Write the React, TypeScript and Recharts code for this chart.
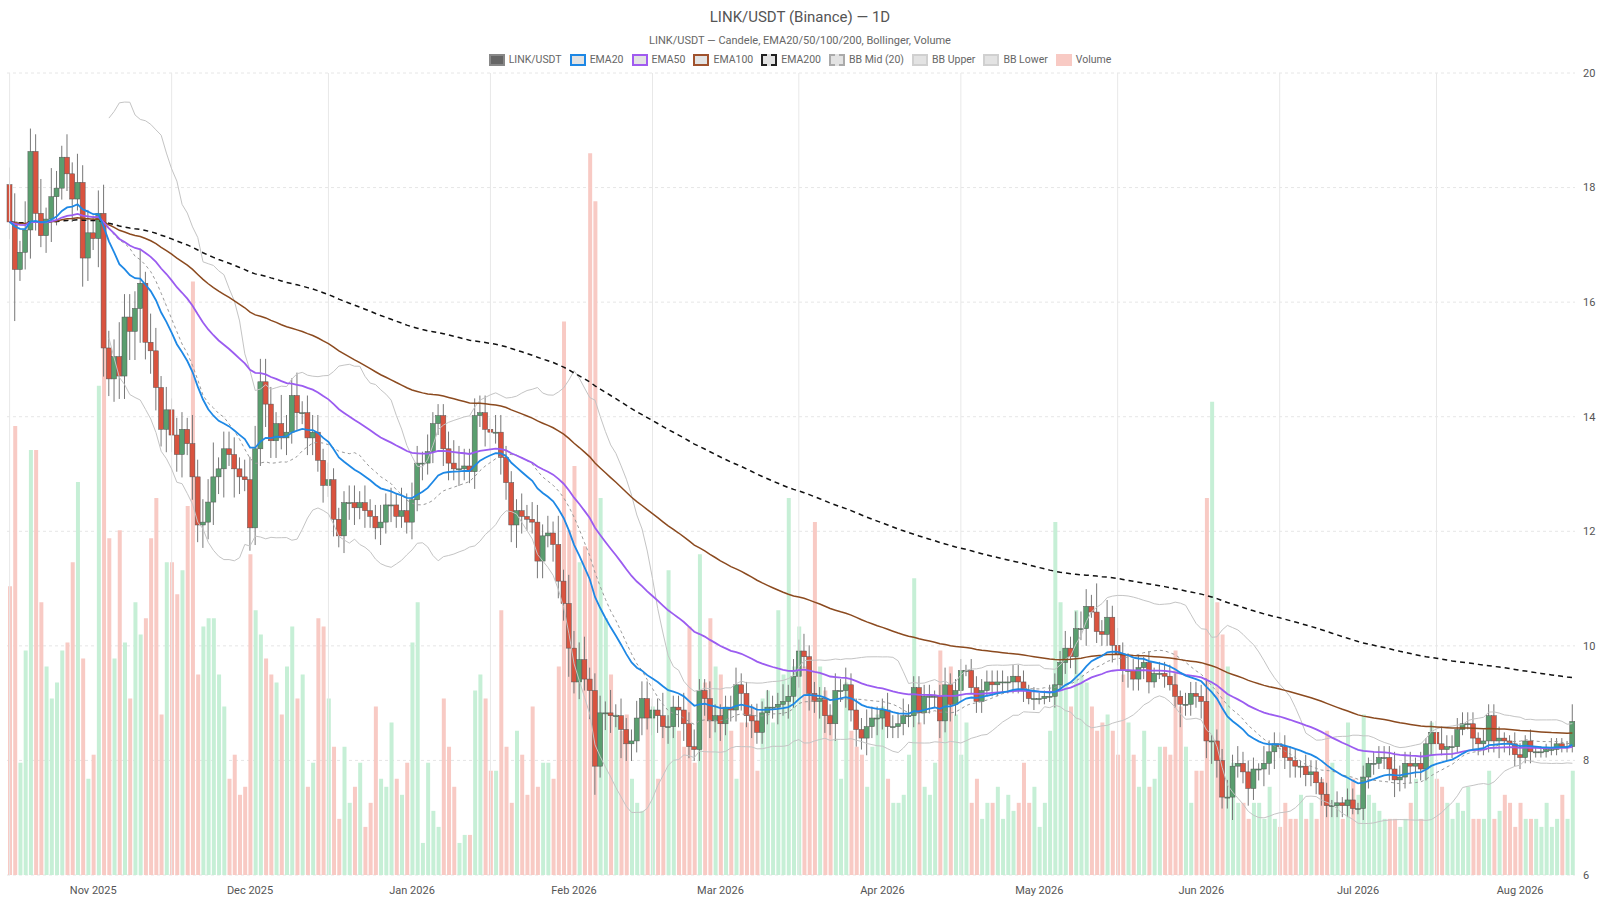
import React from 'react';
import { ComposedChart, Bar, Line, XAxis, YAxis, CartesianGrid, ReferenceLine, Cell } from 'recharts';

// daily closes, LINK/USDT, from 2025-10-16
const firstOpen = 18.05;
const closes = [
  17.4, 16.57, 16.87, 17.26, 18.63, 17.55, 17.16, 17.45, 17.84, 17.99,
  18.53, 18.24, 17.8, 18.09, 16.77, 17.21, 17.11, 17.55, 15.2, 14.66,
  15.05, 14.71, 15.74, 15.49, 15.89, 16.33, 15.3, 15.15, 14.51, 13.78,
  14.12, 13.68, 13.34, 13.78, 13.53, 12.95, 12.11, 12.16, 12.51, 12.95,
  13.09, 13.44, 13.34, 13.09, 12.95, 12.9, 12.06, 13.44, 14.61, 14.22,
  13.58, 13.88, 13.63, 13.73, 14.37, 14.07, 14.07, 13.63, 13.73, 13.24,
  12.8, 12.9, 12.21, 11.92, 12.5, 12.5, 12.41, 12.5, 12.36, 12.26,
  12.06, 12.16, 12.46, 12.46, 12.26, 12.36, 12.16, 12.55, 13.19, 13.19,
  13.39, 13.88, 14.02, 13.44, 13.19, 13.09, 13.09, 13.14, 13.04, 14.02,
  14.07, 13.78, 13.73, 13.73, 13.29, 12.85, 12.11, 12.36, 12.26, 12.21,
  12.16, 11.48, 11.92, 11.97, 11.77, 11.13, 10.74, 9.96, 9.37, 9.76,
  9.42, 9.22, 7.9, 8.83, 8.83, 8.78, 8.78, 8.54, 8.29, 8.34,
  8.74, 9.08, 8.74, 8.88, 8.78, 8.59, 8.59, 8.93, 8.88, 8.64,
  8.24, 8.19, 9.22, 9.08, 8.69, 8.78, 8.64, 8.93, 8.88, 9.32,
  9.17, 8.78, 8.69, 8.49, 8.83, 8.93, 8.93, 8.98, 9.03, 9.12,
  9.47, 9.91, 9.81, 9.17, 9.03, 9.08, 8.78, 8.64, 9.22, 9.22,
  9.32, 8.88, 8.54, 8.39, 8.59, 8.74, 8.74, 8.88, 8.59, 8.59,
  8.64, 8.78, 8.78, 9.27, 8.83, 9.12, 9.12, 9.12, 8.69, 9.32,
  8.98, 9.22, 9.57, 9.57, 9.27, 9.03, 9.22, 9.37, 9.32, 9.37,
  9.37, 9.37, 9.47, 9.37, 9.22, 9.08, 9.08, 9.08, 9.12, 9.12,
  9.32, 9.71, 9.96, 9.81, 10.3, 10.3, 10.69, 10.59, 10.25, 10.2,
  10.5, 10.01, 9.86, 9.57, 9.57, 9.42, 9.62, 9.71, 9.37, 9.52,
  9.52, 9.47, 9.32, 9.12, 8.98, 8.98, 9.17, 9.12, 9.03, 8.34,
  8.34, 8.0, 7.36, 7.36, 7.9, 7.95, 7.8, 7.51, 7.85, 7.85,
  7.95, 8.15, 8.29, 8.24, 8.05, 8.0, 7.9, 7.9, 7.75, 7.8,
  7.61, 7.41, 7.21, 7.21, 7.26, 7.21, 7.31, 7.16, 7.16, 7.71,
  7.95, 7.95, 8.05, 8.05, 7.85, 7.66, 7.71, 7.95, 7.9, 7.95,
  7.85, 8.29, 8.49, 8.29, 8.19, 8.24, 8.24, 8.54, 8.64, 8.64,
  8.39, 8.29, 8.34, 8.78, 8.34, 8.39, 8.34, 8.29, 8.1, 8.05,
  8.34, 8.15, 8.15, 8.15, 8.19, 8.19, 8.29, 8.24, 8.24, 8.68,
];

// wick lengths above / below the body, in tenths of a dollar
const wickUp =
  '35254362532425343453364436254242332534462333234444' +
  '32533423332322233232232324333232223443333323322232' +
  '33232525334233242322333224222323223222232223232232' +
  '32322222323222322232232222212322212222222122212112' +
  '22323332523232322121222212222412232322213222222122' +
  '21212122121222232221212232222221222211221211121113';
const wickDown =
  '39235323452342542553444556344343342434343525324334' +
  '33232323323232333232232322232322233232232332333432' +
  '23323335232552332533232332323322233232223232222323' +
  '22232332323232323222222222323232211221222222212111' +
  '21223231222322322221121242223343224223223232232222' +
  '22222221122212232232222212211122222322221211111111';

// volume, 100k LINK
const volumes = [
  36, 56, 14, 28, 53, 53, 34, 26, 22, 24, 28, 29, 39, 49, 27, 12, 15, 61, 77, 42,
  27, 43, 29, 22, 34, 30, 32, 42, 47, 20, 39, 39, 35, 38, 46, 74, 25, 31, 32, 32,
  25, 21, 12, 15, 10, 11, 40, 33, 30, 27, 25, 24, 20, 26, 31, 22, 25, 11, 14, 32,
  31, 22, 16, 7, 16, 9, 11, 14, 6, 9, 21, 12, 11, 19, 12, 10, 14, 29, 34, 4,
  14, 8, 6, 22, 16, 11, 4, 5, 5, 23, 25, 22, 13, 13, 33, 16, 9, 18, 15, 10,
  21, 11, 14, 14, 12, 26, 69, 43, 51, 39, 41, 90, 84, 47, 32, 25, 20, 18, 20, 12,
  9, 8, 21, 21, 12, 19, 38, 21, 18, 16, 31, 14, 40, 24, 32, 26, 25, 21, 18, 12,
  19, 19, 21, 13, 22, 23, 19, 33, 25, 47, 26, 31, 26, 26, 44, 26, 23, 20, 17, 12,
  24, 18, 16, 15, 11, 16, 20, 21, 12, 9, 9, 10, 15, 37, 19, 11, 10, 14, 28, 21,
  26, 20, 15, 19, 9, 12, 7, 9, 9, 11, 7, 10, 8, 9, 14, 9, 11, 6, 9, 18,
  44, 34, 28, 21, 33, 25, 24, 21, 18, 19, 20, 18, 15, 25, 19, 15, 11, 18, 11, 12,
  16, 16, 15, 28, 21, 16, 9, 13, 13, 47, 59, 34, 30, 26, 14, 9, 9, 7, 9, 9,
  7, 11, 7, 6, 9, 7, 7, 10, 7, 9, 7, 12, 18, 14, 9, 7, 19, 12, 10, 20,
  10, 9, 8, 7, 7, 7, 6, 7, 9, 12, 7, 16, 19, 12, 11, 9, 7, 9, 8, 11,
  7, 7, 7, 13, 7, 8, 10, 9, 6, 9, 7, 7, 7, 6, 9, 6, 7, 10, 7, 13,
];

const priceTicks = [6, 8, 10, 12, 14, 16, 18, 20];
const monthNames = ['Jan', 'Feb', 'Mar', 'Apr', 'May', 'Jun', 'Jul', 'Aug', 'Sep', 'Oct', 'Nov', 'Dec'];

const GREEN = '#5a9e6f';
const RED = '#d9533f';

function ema(src: number[], n: number) {
  const k = 2 / (n + 1);
  const out: number[] = [];
  src.forEach((v, i) => out.push(i === 0 ? v : v * k + out[i - 1] * (1 - k)));
  return out;
}

const start = new Date(Date.UTC(2025, 9, 16));
const dates = closes.map((_, i) => {
  const d = new Date(start.getTime() + i * 86400000);
  return d.toISOString().slice(0, 10);
});

const e20 = ema(closes, 20);
const e50 = ema(closes, 50);
const e100 = ema(closes, 100);
const e200 = ema(closes, 200);

const data = closes.map((c, i) => {
  const o = i === 0 ? firstOpen : closes[i - 1];
  const hi = Math.max(o, c) + Number(wickUp[i] || '2') / 10;
  const lo = Math.min(o, c) - Number(wickDown[i] || '2') / 10;
  let mid = null, up = null, dn = null;
  if (i >= 19) {
    const win = closes.slice(i - 19, i + 1);
    const m = win.reduce((a, b) => a + b, 0) / 20;
    const sd = Math.sqrt(win.reduce((a, b) => a + (b - m) * (b - m), 0) / 20);
    mid = m; up = m + 2 * sd; dn = m - 2 * sd;
  }
  return {
    date: dates[i], open: o, close: c, high: hi, low: lo, range: [lo, hi],
    volume: volumes[i], ema20: e20[i], ema50: e50[i], ema100: e100[i], ema200: e200[i],
    bbMid: mid, bbUp: up, bbDn: dn,
  };
});

const monthTicks = dates.filter(d => d.endsWith('-01'));
const gridDates = dates.filter(d => d.endsWith('-16'));

const fmtMonth = (d: string) => `${monthNames[Number(d.slice(5, 7)) - 1]} ${d.slice(0, 4)}`;

const Candle = (props: any) => {
  const { x, y, width, height, payload } = props;
  const { open, close, high, low } = payload;
  const ratio = height / (high - low || 1);
  const top = y + (high - Math.max(open, close)) * ratio;
  const bodyH = Math.max(Math.abs(open - close) * ratio, 1);
  const cx = x + width / 2;
  const color = close >= open ? GREEN : RED;
  return (
    <g>
      <line x1={cx} x2={cx} y1={y} y2={y + height} stroke="#777" strokeWidth={1} />
      <rect x={x} y={top} width={width} height={bodyH} fill={color} stroke="#555" strokeWidth={0.5} />
    </g>
  );
};

const legendItems = [
  { label: 'LINK/USDT', fill: '#666', border: '#888', dash: false },
  { label: 'EMA20', fill: '#e3e3e3', border: '#1e88e5', dash: false },
  { label: 'EMA50', fill: '#e3e3e3', border: '#a05cf0', dash: false },
  { label: 'EMA100', fill: '#e3e3e3', border: '#a0522d', dash: false },
  { label: 'EMA200', fill: '#e3e3e3', border: '#222', dash: true },
  { label: 'BB Mid (20)', fill: '#e3e3e3', border: '#aaa', dash: true },
  { label: 'BB Upper', fill: '#e3e3e3', border: '#d0d0d0', dash: false },
  { label: 'BB Lower', fill: '#e3e3e3', border: '#d0d0d0', dash: false },
  { label: 'Volume', fill: '#f8cac4', border: '#f8cac4', dash: false },
];

export default function App() {
  return (
    <div style={{ position: 'absolute', left: 0, top: 0, width: 1600, height: 900, background: '#fff', fontFamily: 'Roboto, Arial, sans-serif' }}>
      <div style={{ position: 'absolute', top: 8, width: 1600, textAlign: 'center', fontSize: 15, color: '#555' }}>
        LINK/USDT (Binance) — 1D
      </div>
      <div style={{ position: 'absolute', top: 34, width: 1600, textAlign: 'center', fontSize: 11, color: '#666' }}>
        LINK/USDT — Candele, EMA20/50/100/200, Bollinger, Volume
      </div>
      <div style={{ position: 'absolute', top: 53, width: 1600, display: 'flex', justifyContent: 'center', gap: 8, fontSize: 10.5, color: '#666' }}>
        {legendItems.map(it => (
          <div key={it.label} style={{ display: 'flex', alignItems: 'center', gap: 4 }}>
            <span style={{ display: 'inline-block', width: 12, height: 8, background: it.fill, border: `2px ${it.dash ? 'dashed' : 'solid'} ${it.border}` }} />
            {it.label}
          </div>
        ))}
      </div>
      <ComposedChart width={1600} height={900} data={data} margin={{ top: 73, right: 0, left: 7, bottom: 0 }}>
        <CartesianGrid yAxisId="p" vertical={false} stroke="#e6e6e6" strokeDasharray="3 3" />
        <XAxis dataKey="date" xAxisId="p" ticks={monthTicks} interval={0} tickFormatter={fmtMonth}
          tick={{ fontSize: 11, fill: '#555', dy: 3 }} axisLine={false} tickLine={false} height={25} />
        <XAxis dataKey="date" xAxisId="v" hide />
        <YAxis yAxisId="p" orientation="right" domain={[6, 20]} ticks={priceTicks} width={25}
          tick={{ fontSize: 11, fill: '#555' }} axisLine={false} tickLine={false} />
        <YAxis yAxisId="v" hide domain={[0, 100]} />
        {gridDates.map(d => (
          <ReferenceLine key={d} x={d} xAxisId="p" yAxisId="p" stroke="#e8e8e8" />
        ))}
        <Bar dataKey="volume" xAxisId="v" yAxisId="v" barSize={4} isAnimationActive={false}>
          {data.map((d, i) => (
            <Cell key={i} fill={d.close >= d.open ? '#c6efd6' : '#f8cac4'} />
          ))}
        </Bar>
        <Line dataKey="bbUp" xAxisId="p" yAxisId="p" stroke="#c4c4c4" strokeWidth={1} dot={false} isAnimationActive={false} />
        <Line dataKey="bbDn" xAxisId="p" yAxisId="p" stroke="#c4c4c4" strokeWidth={1} dot={false} isAnimationActive={false} />
        <Line dataKey="bbMid" xAxisId="p" yAxisId="p" stroke="#999" strokeDasharray="3 3" strokeWidth={1} dot={false} isAnimationActive={false} />
        <Bar dataKey="range" xAxisId="p" yAxisId="p" barSize={5} shape={Candle} isAnimationActive={false} />
        <Line dataKey="ema200" xAxisId="p" yAxisId="p" stroke="#111" strokeDasharray="5 4" strokeWidth={1.5} dot={false} isAnimationActive={false} />
        <Line dataKey="ema100" xAxisId="p" yAxisId="p" stroke="#8b4a1f" strokeWidth={1.5} dot={false} isAnimationActive={false} />
        <Line dataKey="ema50" xAxisId="p" yAxisId="p" stroke="#9b5cf0" strokeWidth={1.8} dot={false} isAnimationActive={false} />
        <Line dataKey="ema20" xAxisId="p" yAxisId="p" stroke="#1e88e5" strokeWidth={1.8} dot={false} isAnimationActive={false} />
      </ComposedChart>
    </div>
  );
}
